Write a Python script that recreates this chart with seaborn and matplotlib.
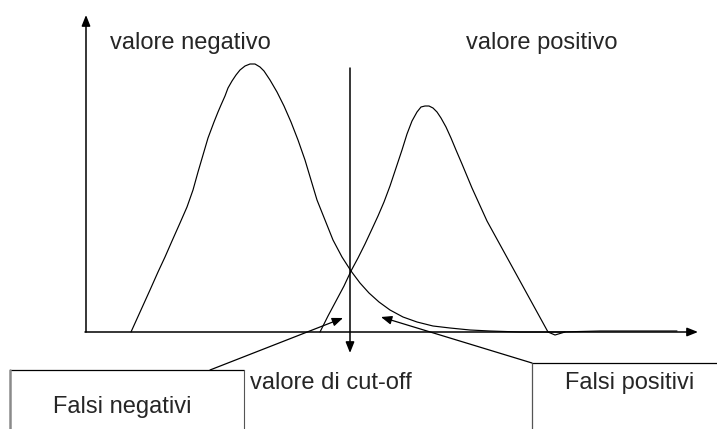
import matplotlib
matplotlib.use("Agg")
import matplotlib.pyplot as plt
import seaborn as sns
import pandas as pd

# Distribution of test values: negatives (left hump) and positives (right hump)
neg_x = [45, 64, 72, 79, 86, 94, 101, 107, 112, 117, 122, 128, 132, 135, 139, 142,
         146, 150, 154, 159, 164, 169, 174, 178, 184, 191, 198, 205, 212, 219, 225,
         231, 239, 247, 256, 265, 274, 283, 293, 304, 317, 331, 347, 364, 384, 404,
         434, 474, 514, 554, 591]
neg_y = [0, 42, 60, 75, 91, 109, 125, 142, 160, 177, 194, 210, 220, 227, 236, 244,
         251, 257, 262, 266, 268, 268, 265, 261, 252, 240, 226, 210, 192, 172, 152,
         132, 112, 92, 75, 61, 49, 39, 30, 22, 15, 10, 6, 4, 2, 1,
         0, 0, 1, 1, 1]

pos_x = [234, 242, 250, 258, 265, 272, 279, 286, 292, 298, 304, 310, 316, 321, 326,
         331, 335, 339, 343, 347, 351, 355, 360, 365, 370, 376, 381, 386, 391, 396,
         401, 462, 469, 479]
pos_y = [0, 16, 31, 46, 61, 74, 88, 103, 116, 130, 146, 164, 182, 198, 211,
         220, 225, 226, 226, 224, 220, 214, 205, 194, 182, 168, 156, 144, 133, 122,
         111, 0, -3, 0]

cutoff = 264
cutoff_top = 264
cutoff_bottom = -21

x_axis_end = 612
y_axis_end = 317

label_neg = "valore negativo"
label_pos = "valore positivo"
label_cut = "valore di cut-off"
label_fn = "Falsi negativi"
label_fp = "Falsi positivi"

sns.set_theme(style="white")
plt.rcParams["font.family"] = ["Liberation Sans", "DejaVu Sans"]

fig = plt.figure(figsize=(7.17, 4.29), dpi=100)
ax = fig.add_axes([0, 0, 1, 1])
ax.set_xlim(-86, 631)
ax.set_ylim(-97, 332)
ax.axis("off")

curves = pd.concat([
    pd.DataFrame({"x": neg_x, "y": neg_y, "gruppo": "negativi"}),
    pd.DataFrame({"x": pos_x, "y": pos_y, "gruppo": "positivi"}),
])
sns.lineplot(data=curves, x="x", y="y", units="gruppo", estimator=None, sort=False,
             color="black", linewidth=0.85, ax=ax, legend=False,
             solid_joinstyle="round", solid_capstyle="round")

arrow = dict(arrowstyle="-|>,head_length=0.5,head_width=0.2", color="black",
             mutation_scale=13, shrinkA=0, shrinkB=0)

# axes with arrowheads
ax.annotate("", xy=(0, y_axis_end), xytext=(0, 0),
            arrowprops=dict(arrow, linewidth=1.1))
ax.annotate("", xy=(x_axis_end, 0), xytext=(-1, 0),
            arrowprops=dict(arrow, linewidth=1.1))

# cut-off line
ax.annotate("", xy=(cutoff, cutoff_bottom), xytext=(cutoff, cutoff_top),
            arrowprops=dict(arrow, linewidth=1.1))

# labels
fs = 17
ax.text(104, 289, label_neg, ha="center", va="center", fontsize=fs)
ax.text(456, 289, label_pos, ha="center", va="center", fontsize=fs)
ax.text(164, -51, label_cut, ha="left", va="center", fontsize=fs)

# callout boxes
ax.plot([-76, 158], [-38, -38], color="black", linewidth=0.9)
ax.plot([-76, -76], [-38, -100], color="#8a8a8a", linewidth=1.8)
ax.plot([158, 158], [-38, -100], color="#555555", linewidth=0.8)
ax.text(36, -75, label_fn, ha="center", va="center", fontsize=fs)

ax.plot([446, 640], [-31, -31], color="black", linewidth=0.9)
ax.plot([446, 446], [-31, -100], color="#555555", linewidth=0.9)
ax.text(544, -51, label_fp, ha="center", va="center", fontsize=fs)

# pointers from the boxes into the overlapping tails
ax.annotate("", xy=(257, 14), xytext=(124, -38),
            arrowprops=dict(arrow, linewidth=0.9))
ax.annotate("", xy=(295, 15), xytext=(446, -31),
            arrowprops=dict(arrow, linewidth=0.9))

fig.savefig("out.png", dpi=100, facecolor="white")
